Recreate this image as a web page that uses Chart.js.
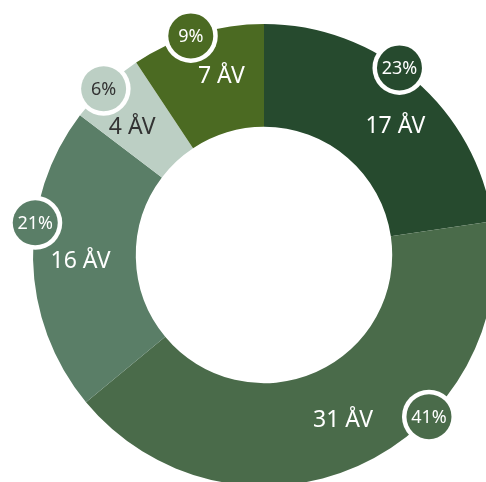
<!DOCTYPE html>
<html>
<head>
<meta charset="utf-8">
<script src="https://cdn.jsdelivr.net/npm/chart.js@4/dist/chart.umd.min.js"></script>
<style>
  html, body { margin: 0; padding: 0; background: #ffffff; overflow: hidden; }
  #wrap { position: absolute; left: 0; top: 0; width: 528px; height: 510px; }
</style>
</head>
<body>
<div id="wrap"><canvas id="chart"></canvas></div>
<script>
// Categories and values (number of ÅV per group)
const categories = ['17 ÅV', '31 ÅV', '16 ÅV', '4 ÅV', '7 ÅV'];
const values = [17, 31, 16, 4, 7];
const unit = 'ÅV';
// Share labels shown in the round badges
const shares = ['23%', '41%', '21%', '6%', '9%'];

// Styling
const sliceColors = ['#264a2e', '#4a6b4a', '#5a7e67', '#bccfc4', '#4b6a22'];
const textColors = ['#ffffff', '#ffffff', '#ffffff', '#333333', '#ffffff'];
// where along each slice the badge and the value label sit (0 = start, 1 = end)
const badgeAlong = [0.44, 0.355, 0.62, 0.46, 0.45];
const labelAlong = [0.56, 0.49, 0.49, 0.36, 0.60];

const FONT = '"Noto Sans", "Open Sans", sans-serif';

const sliceLabels = {
  id: 'sliceLabels',
  afterDatasetsDraw(chart) {
    const ctx = chart.ctx;
    const meta = chart.getDatasetMeta(0);
    ctx.save();
    ctx.textAlign = 'center';
    ctx.textBaseline = 'middle';
    meta.data.forEach((arc, i) => {
      const p = arc.getProps(['x', 'y', 'startAngle', 'endAngle', 'innerRadius', 'outerRadius'], true);
      // value label inside the ring
      const la = p.startAngle + (p.endAngle - p.startAngle) * labelAlong[i];
      const rMid = (p.innerRadius + p.outerRadius) / 2 + 4;
      ctx.fillStyle = textColors[i];
      ctx.font = '23px ' + FONT;
      ctx.fillText(values[i] + ' ' + unit, p.x + Math.cos(la) * rMid, p.y + Math.sin(la) * rMid);

      // share badge on the outer edge
      const a = p.startAngle + (p.endAngle - p.startAngle) * badgeAlong[i];
      const bx = p.x + Math.cos(a) * p.outerRadius;
      const by = p.y + Math.sin(a) * p.outerRadius;
      ctx.beginPath();
      ctx.arc(bx, by, 27, 0, Math.PI * 2);
      ctx.fillStyle = '#ffffff';
      ctx.fill();
      ctx.beginPath();
      ctx.arc(bx, by, 22.5, 0, Math.PI * 2);
      ctx.fillStyle = sliceColors[i];
      ctx.fill();
      ctx.fillStyle = textColors[i];
      ctx.font = '18px ' + FONT;
      ctx.fillText(shares[i], bx, by + 1);
    });
    ctx.restore();
  }
};

new Chart(document.getElementById('chart'), {
  type: 'doughnut',
  data: {
    labels: categories,
    datasets: [{
      data: values,
      backgroundColor: sliceColors,
      borderWidth: 0,
      hoverOffset: 0
    }]
  },
  options: {
    responsive: true,
    maintainAspectRatio: false,
    animation: false,
    cutout: '55.5%',
    layout: { padding: 24 },
    plugins: {
      legend: { display: false },
      tooltip: { enabled: false }
    }
  },
  plugins: [sliceLabels]
});
</script>
</body>
</html>
